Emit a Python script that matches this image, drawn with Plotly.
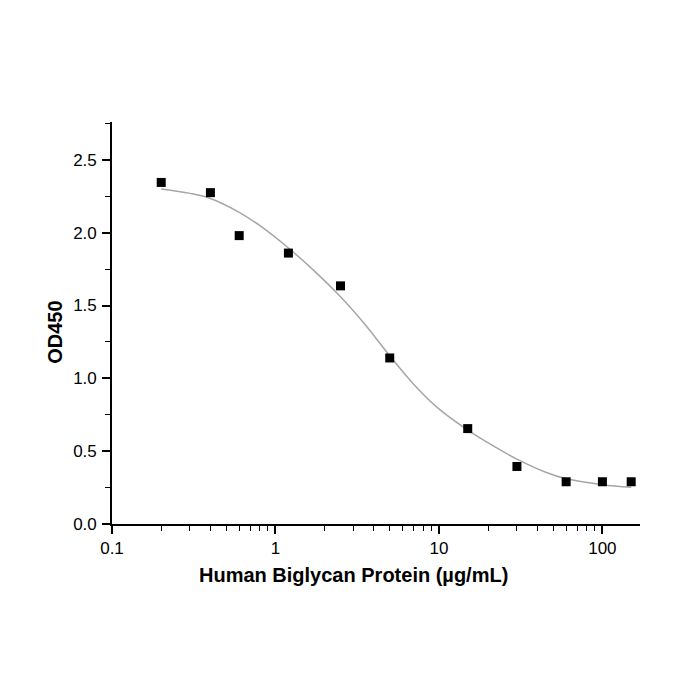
import plotly.graph_objects as go

# measured points
conc = [0.2, 0.4, 0.6, 1.2, 2.5, 5, 15, 30, 60, 100, 150]
od450 = [2.345, 2.275, 1.98, 1.86, 1.635, 1.14, 0.655, 0.395, 0.29, 0.29, 0.29]

# fitted curve
fit_x = [0.2, 0.3, 0.4, 0.6, 0.8, 1.2, 1.7, 2.5, 3.5, 5, 7, 10, 15, 22, 30, 45, 60, 100, 150]
fit_y = [2.30, 2.27, 2.235, 2.14, 2.05, 1.895, 1.745, 1.56, 1.375, 1.155, 0.96, 0.79, 0.645,
         0.53, 0.445, 0.355, 0.31, 0.27, 0.252]

x_ticks = [0.1, 1, 10, 100]
x_ticktext = ["0.1", "1", "10", "100"]
y_ticks = [0.0, 0.5, 1.0, 1.5, 2.0, 2.5]

x_minor = [m * d for d in (0.1, 1, 10) for m in range(2, 10)] + [100]
y_minor = [0.25, 0.75, 1.25, 1.75, 2.25, 2.75]

FONT = "Liberation Sans, Arial, sans-serif"

fig = go.Figure()

fig.add_trace(go.Scatter(
    x=fit_x, y=fit_y, mode="lines", line_shape="spline",
    line=dict(color="#a6a6a6", width=1.5), hoverinfo="skip"
))
fig.add_trace(go.Scatter(
    x=conc, y=od450, mode="markers",
    marker=dict(symbol="square", size=9, color="black")
))

axis_common = dict(
    showline=True, linecolor="black", linewidth=1.6,
    ticks="outside", ticklen=8, tickwidth=1.6, tickcolor="black",
    showgrid=False, zeroline=False, mirror=False,
    tickfont=dict(family=FONT, size=17, color="black"),
)

# page body has an 8px margin, so the plot box is shifted back by that
fig.update_layout(
    width=700, height=700,
    plot_bgcolor="white", paper_bgcolor="white",
    showlegend=False,
    margin=dict(l=104, r=68, t=114, b=184),
    xaxis=dict(
        type="log", range=[-1, 2.23],
        tickvals=x_ticks, ticktext=x_ticktext,
        minor=dict(tickvals=x_minor, ticks="outside", ticklen=5, tickwidth=1.4,
                   tickcolor="black", showgrid=False),
        ticklabelstandoff=0,
        **axis_common
    ),
    yaxis=dict(
        range=[0, 2.76],
        tickvals=y_ticks, ticktext=[f"{v:.1f}" for v in y_ticks],
        minor=dict(tickvals=y_minor, ticks="outside", ticklen=5, tickwidth=1.4,
                   tickcolor="black", showgrid=False),
        ticklabelstandoff=2,
        **axis_common
    ),
    annotations=[
        dict(text="<b>Human Biglycan Protein (µg/mL)</b>", xref="paper", yref="paper",
             x=0.457, y=-0.127, xanchor="center", yanchor="middle", showarrow=False,
             font=dict(family=FONT, size=20, color="black")),
        dict(text="<b>OD450</b>", xref="paper", yref="paper", textangle=-90,
             x=-0.108, y=0.478, xanchor="center", yanchor="middle", showarrow=False,
             font=dict(family=FONT, size=20, color="black")),
    ],
)

fig.write_html("out.html")
